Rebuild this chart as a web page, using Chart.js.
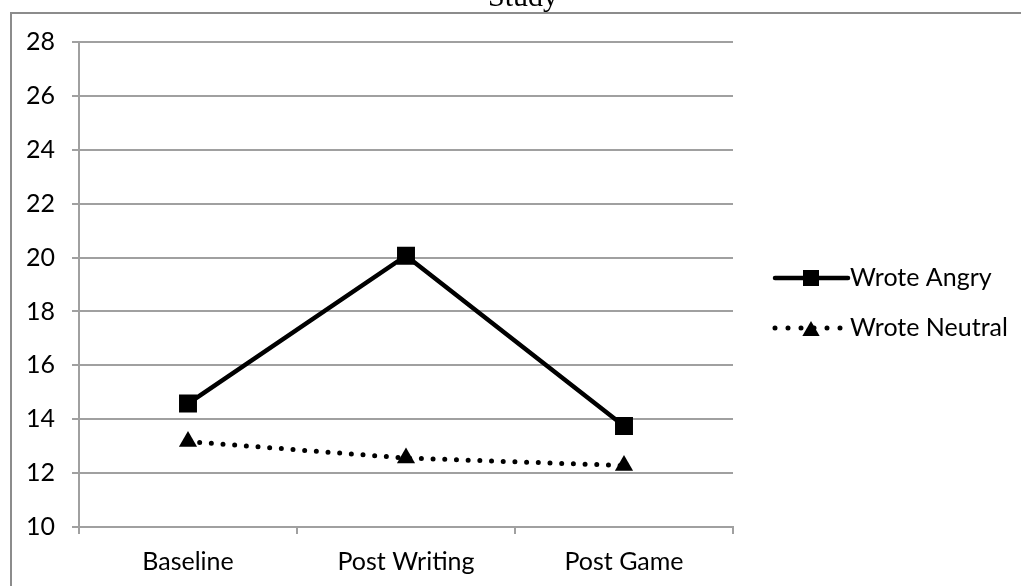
<!DOCTYPE html>
<html>
<head>
<meta charset="utf-8">
<script src="https://cdn.jsdelivr.net/npm/chart.js@4.4.0/dist/chart.umd.min.js"></script>
<style>
    html, body { margin: 0; padding: 0; background: #fff; }
    #wrap { width: 1021px; height: 586px; position: relative; }
</style>
</head>
<body>
<div id="wrap"><canvas id="chart" width="1021" height="586"></canvas></div>
<script>
const categories = ['Baseline', 'Post Writing', 'Post Game'];
const wroteAngry = [14.58, 20.07, 13.75];
const wroteNeutral = [13.17, 12.56, 12.28];
const yMin = 10;
const yMax = 28;
const yStep = 2;
const chartTitle = 'Study';

const gridGray = '#a0a0a0';
const labelFont = { family: 'Lato', size: 25 };

// outer frame + cut off title, like the excel screenshot
const framePlugin = {
    id: 'frame',
    beforeDraw(chart) {
        const ctx = chart.ctx;
        ctx.save();
        ctx.fillStyle = '#fff';
        ctx.fillRect(0, 0, chart.width, chart.height);
        ctx.strokeStyle = '#8c8c8c';
        ctx.lineWidth = 2;
        ctx.strokeRect(11, 13, 1200, 800);
        ctx.fillStyle = '#000';
        ctx.font = '30px "Liberation Serif"';
        ctx.textAlign = 'center';
        ctx.textBaseline = 'alphabetic';
        ctx.fillText(chartTitle, 523, 6);
        ctx.restore();
    }
};

const sideLegend = {
    id: 'sideLegend',
    afterDraw(chart) {
        const ctx = chart.ctx;
        chart.data.datasets.forEach((ds, i) => {
            const y = 278 + i * 50;
            ctx.save();
            ctx.strokeStyle = ds.borderColor;
            ctx.lineWidth = ds.borderWidth;
            ctx.lineCap = ds.borderCapStyle || 'round';
            ctx.setLineDash(ds.legendDash || []);
            ctx.beginPath();
            ctx.moveTo(775, y);
            ctx.lineTo(848, y);
            ctx.stroke();
            ctx.setLineDash([]);
            ctx.fillStyle = ds.pointBackgroundColor;
            Chart.helpers.drawPoint(ctx, {
                pointStyle: ds.pointStyle,
                radius: ds.legendRadius,
                borderWidth: 0,
                rotation: 0
            }, 811, y + (ds.pointStyle === 'triangle' ? 3 : 0));
            ctx.fillStyle = '#000';
            ctx.font = '25px Lato';
            ctx.textAlign = 'left';
            ctx.textBaseline = 'middle';
            ctx.fillText(ds.label, 850, y);
            ctx.restore();
        });
    }
};

new Chart(document.getElementById('chart'), {
    type: 'line',
    data: {
        labels: categories,
        datasets: [{
            label: 'Wrote Angry',
            data: wroteAngry,
            borderColor: '#000',
            borderWidth: 4.5,
            pointStyle: 'rect',
            pointRadius: 12.7,
            pointBackgroundColor: '#000',
            pointBorderWidth: 0,
            legendRadius: 11.3,
            tension: 0
        }, {
            label: 'Wrote Neutral',
            data: wroteNeutral,
            borderColor: '#000',
            borderWidth: 5,
            borderDash: [0, 11.7],
            legendDash: [0, 13],
            borderCapStyle: 'round',
            pointStyle: 'triangle',
            pointRadius: 10.5,
            pointBackgroundColor: '#000',
            pointBorderWidth: 0,
            legendRadius: 10,
            tension: 0
        }]
    },
    options: {
        responsive: false,
        devicePixelRatio: 1,
        animation: false,
        layout: { padding: { top: 42, right: 288, bottom: 0, left: 0 } },
        plugins: {
            legend: { display: false },
            title: { display: false },
            tooltip: { enabled: false }
        },
        scales: {
            x: {
                offset: true,
                grid: {
                    offset: true,
                    drawOnChartArea: false,
                    drawTicks: true,
                    tickLength: 7,
                    color: gridGray,
                    lineWidth: 2
                },
                border: { display: true, color: gridGray, width: 2 },
                ticks: { color: '#000', font: labelFont, padding: 13, maxRotation: 0 },
                afterFit(scale) { scale.height = 59; }
            },
            y: {
                min: yMin,
                max: yMax,
                ticks: { stepSize: yStep, color: '#000', font: labelFont, padding: 17 },
                grid: { color: gridGray, lineWidth: 2, tickLength: 7 },
                border: { display: true, color: gridGray, width: 2 },
                afterFit(scale) { scale.width = 79; }
            }
        }
    },
    plugins: [framePlugin, sideLegend]
});
</script>
</body>
</html>
